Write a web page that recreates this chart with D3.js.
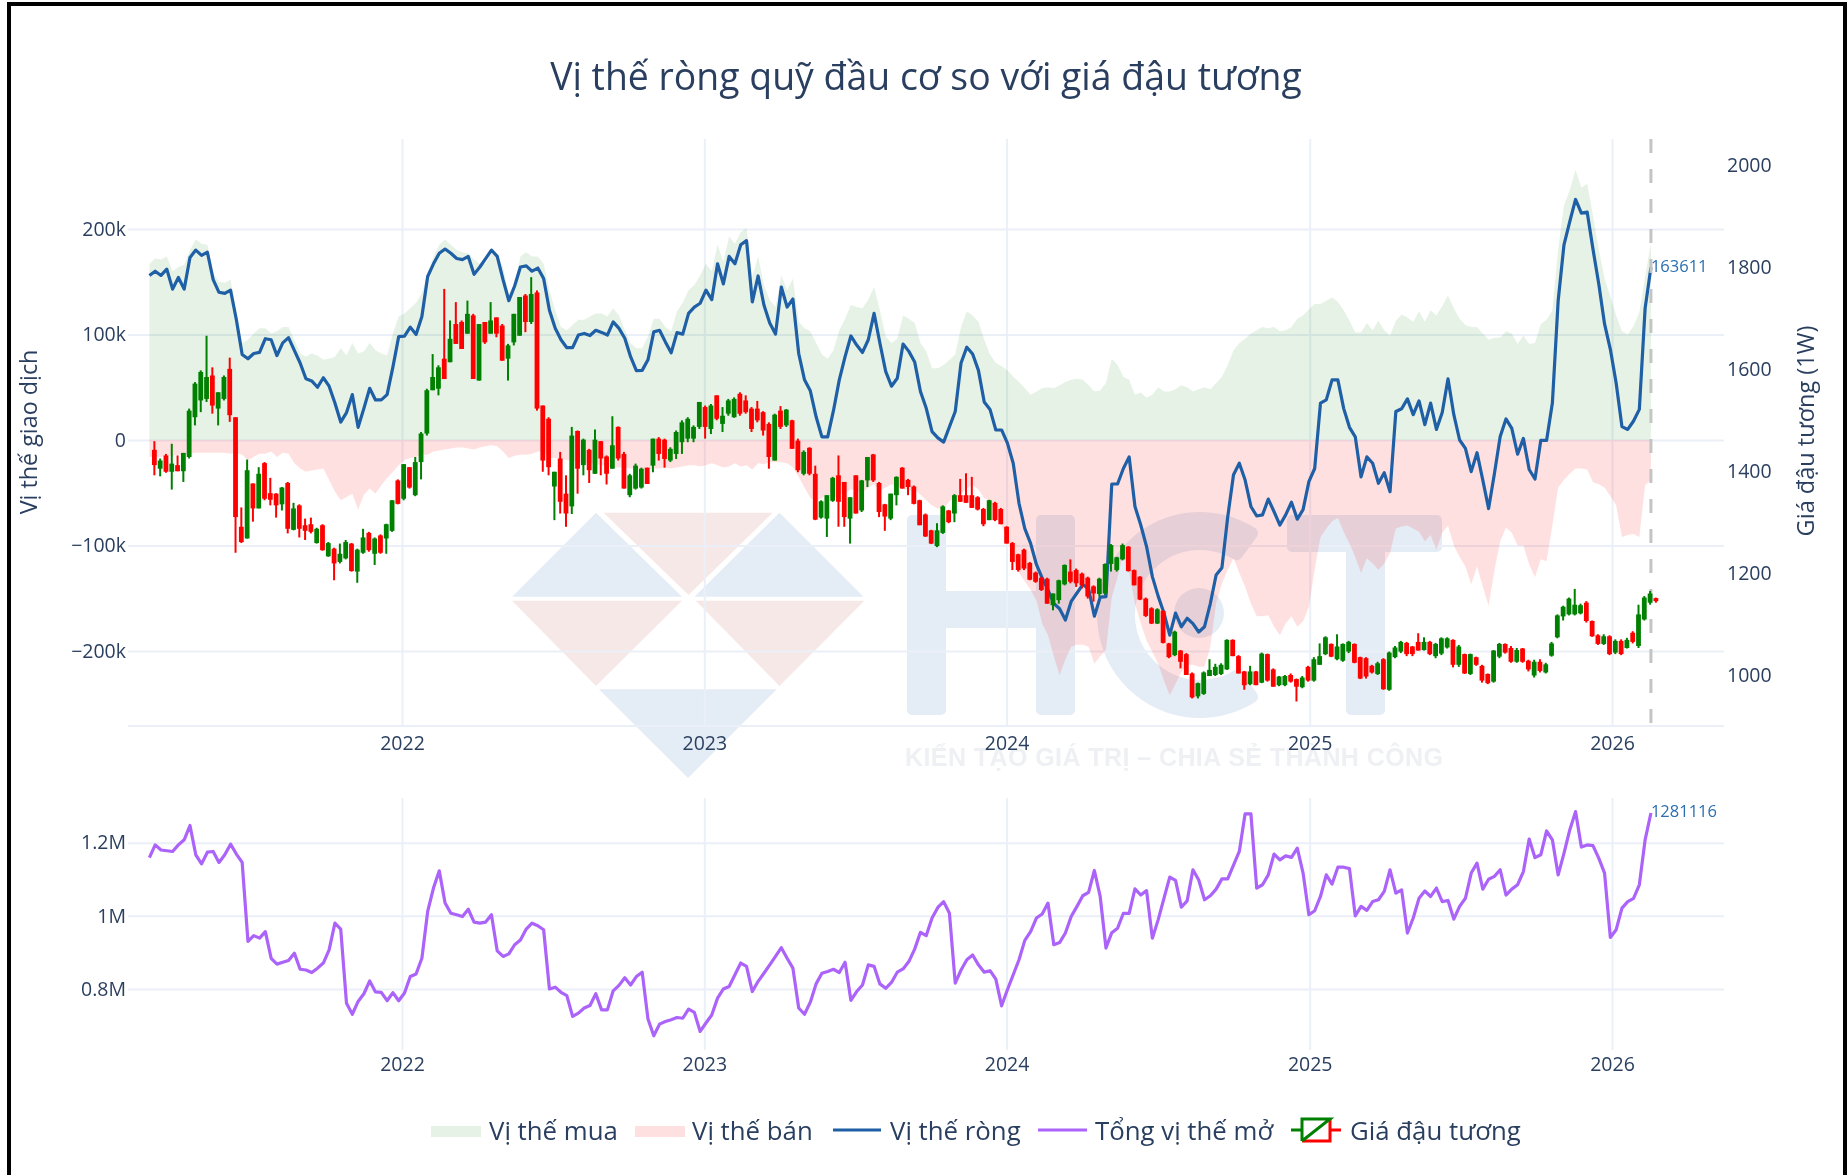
<!DOCTYPE html>
<html>
<head>
<meta charset="utf-8">
<title>Vị thế ròng quỹ đầu cơ so với giá đậu tương</title>
<script src="https://cdn.jsdelivr.net/npm/d3@7"></script>
<style>
  html, body { margin: 0; padding: 0; background: #fff; }
  /* the reference is an upscaled screenshot, so everything is a little soft */
  svg { display: block; filter: blur(0.55px); }
  text { font-family: "Open Sans", sans-serif; fill: #2a3f5f; }
</style>
</head>
<body>
<script>
var width = 1848;
var height = 1175;

// ---- data ----
var firstReport = new Date(2021, 2, 2); // weekly report, Tuesday
var yearTicks = [2022, 2023, 2024, 2025, 2026];
var netTicks = [-200, -100, 0, 100, 200];
var oiTicks = [0.8, 1, 1.2];
var priceTicks = [1000, 1200, 1400, 1600, 1800, 2000];
var legendNames = ["Vị thế mua", "Vị thế bán", "Vị thế ròng", "Tổng vị thế mở", "Giá đậu tương"];

// thousands of contracts
var longPos = [
  167,172,171,174,160,164,166,180,190,186, 185,158,150,149,152,120,92,95,101,106,
  106,101,103,107,107,95,82,79,82,80, 76,77,79,87,80,92,82,84,92,85,
  82,80,101,117,120,125,130,139,158,174, 185,190,185,180,178,177,171,167,167,177,
  174,164,139,148,174,178,174,174,167,142, 123,107,104,109,114,114,117,120,120,117,
  125,118,104,92,87,87,98,115,115,107, 103,122,130,142,147,156,167,160,185,169,
  193,186,197,201,155,174,147,133,126,156, 142,153,112,106,103,92,81,77,85,104,
  115,128,126,125,133,145,123,98,92,96, 118,115,111,92,84,68,68,71,76,81,
  107,122,118,112,95,81,73,70,66,60, 55,49,43,46,49,50,49,52,55,57,
  58,57,52,46,47,54,77,71,60,57, 43,45,40,43,50,46,46,48,52,50,
  46,48,50,48,54,60,71,85,92,96, 101,104,107,106,107,103,104,107,115,118,
  124,129,129,132,135,131,123,113,102,102, 111,104,113,104,99,113,119,116,112,122,
  112,123,118,127,137,125,115,109,107,107, 101,95,97,97,103,101,91,99,91,92,
  110,114,123,181,222,237,256,239,243,213, 181,153,136,118,103,100,108,121,155,187
];
var shortPos = [
  -16,-16,-16,-15,-15,-14,-14,-13,-12,-12, -12,-12,-12,-12,-13,-12,-14,-19,-16,-13,
  -13,-11,-16,-12,-13,-22,-27,-30,-29,-28, -27,-38,-49,-57,-54,-51,-66,-52,-46,-51,
  -43,-36,-30,-24,-19,-17,-16,-14,-14,-11, -10,-9,-8,-7,-7,-8,-9,-7,-6,-5,
  -6,-11,-17,-15,-14,-14,-13,-11,-11,-17, -17,-18,-19,-20,-21,-22,-22,-23,-24,-25,
  -26,-26,-26,-27,-27,-28,-28,-27,-27,-26, -27,-26,-25,-24,-24,-25,-24,-22,-24,-26,
  -25,-22,-25,-24,-28,-22,-23,-21,-21,-21, -22,-26,-35,-45,-55,-58,-55,-52,-55,-52,
  -50,-47,-48,-50,-45,-42,-48,-45,-42,-44, -46,-48,-47,-52,-57,-62,-65,-65,-58,-55,
  -51,-46,-43,-47,-55,-58,-71,-82,-93,-114, -126,-134,-142,-152,-174,-185,-205,-223,-208,-196,
  -194,-194,-196,-212,-205,-199,-149,-130,-107,-126, -155,-174,-190,-201,-212,-228,-242,-231,-220,-213,
  -213,-215,-215,-196,-155,-136,-123,-112,-126,-139, -155,-167,-167,-166,-177,-185,-174,-167,-177,-172,
  -158,-123,-92,-84,-77,-74,-87,-98,-111,-126, -112,-117,-123,-117,-107,-84,-82,-81,-84,-87,
  -96,-90,-104,-88,-81,-100,-111,-120,-137,-120, -139,-157,-124,-96,-83,-88,-100,-100,-118,-130,
  -113,-115,-81,-45,-38,-32,-27,-27,-28,-40, -42,-45,-53,-62,-92,-90,-89,-92,-43,-38
];
var netPos = [
  156,160,156,162,143,154,143,173,180,175, 178,152,140,139,142,114,81,77,82,83,
  96,95,80,92,97,85,73,58,56,50, 59,51,35,17,26,43,12,30,49,38,
  38,43,69,98,98.5,107,100,117,155,167, 177,181,177,172,171,174,157,164,172,180,
  174,152,132,146,164,165,160,163,153,123, 106,95,87.5,87.5,99.5,101,99,104,102,99.5,
  112,105.8,96.5,79,65.7,66,76,102.5,104,93, 82.7,101.8,100.4,120,126,129.6,142,133,167,148,
  174,167,185,189,131,155.5,128,111,100.4,145, 126,133.6,82,57,46.7,22,3,3,28,57,
  79,98.6,90,83,95,120,92,65,51,58.5, 91,84,74,46,30,8,2,-2,12.6,27,
  73,88,81.5,66,36,29,9.5,9.5,-3,-22, -60,-84,-98,-118,-131,-142,-155,-160,-170.6,-153,
  -145,-137,-141,-167,-149,-148.5,-41.7,-41.7,-27,-16, -63,-80.6,-101,-129.5,-148,-164,-185,-164,-177,-169,
  -174,-182,-177,-155,-128,-121,-73,-33,-22,-38, -63,-72,-71,-56,-68,-80.6,-71,-59,-75,-66,
  -39.5,-27,35,38,57,57,30,12,3,-35, -16,-22,-41,-31,-49,27,29.6,39,24,37,
  14.6,35,10,26,58,24,0,-8,-30,-12, -38,-65,-32,3.4,20,11,-13.5,1.5,-28,-37,
  -0.4,-0.4,35,132,185,207,228,215,216,181, 148,110,86,54,12.7,10,18,29,125,163.611
];
// millions of contracts
var openInterest = [
  1.159,1.194,1.180,1.178,1.176,1.194,1.208,1.247,1.167,1.142, 1.174,1.176,1.146,1.167,1.196,1.169,1.146,0.930,0.946,0.939,
  0.957,0.884,0.868,0.873,0.878,0.898,0.854,0.852,0.845,0.857, 0.871,0.907,0.980,0.964,0.761,0.731,0.766,0.787,0.822,0.792,
  0.791,0.768,0.790,0.768,0.789,0.834,0.841,0.884,1.012,1.076, 1.123,1.035,1.007,1.003,0.998,1.018,0.983,0.980,0.983,1.003,
  0.904,0.889,0.896,0.921,0.934,0.964,0.980,0.973,0.962,0.800, 0.805,0.791,0.782,0.725,0.734,0.748,0.755,0.787,0.743,0.743,
  0.795,0.810,0.831,0.811,0.834,0.846,0.718,0.672,0.704,0.711, 0.716,0.722,0.720,0.745,0.736,0.684,0.707,0.729,0.775,0.800,
  0.807,0.839,0.871,0.862,0.793,0.821,0.843,0.866,0.889,0.913, 0.884,0.857,0.748,0.731,0.764,0.814,0.843,0.848,0.854,0.845,
  0.873,0.769,0.793,0.811,0.866,0.862,0.814,0.802,0.818,0.846, 0.855,0.875,0.909,0.955,0.946,0.994,1.023,1.039,1.007,0.816,
  0.852,0.880,0.893,0.866,0.846,0.850,0.827,0.754,0.798,0.839, 0.880,0.933,0.957,0.994,1.005,1.035,0.921,0.927,0.953,0.998,
  1.026,1.055,1.064,1.124,1.053,0.912,0.954,0.966,1.007,1.007, 1.074,1.057,1.069,0.939,0.989,1.048,1.106,1.097,1.024,1.041,
  1.126,1.098,1.044,1.055,1.073,1.101,1.101,1.139,1.176,1.279, 1.279,1.076,1.085,1.112,1.169,1.153,1.164,1.160,1.185,1.117,
  1.003,1.014,1.053,1.112,1.087,1.133,1.133,1.129,1.000,1.026, 1.015,1.039,1.044,1.067,1.126,1.062,1.071,0.953,0.994,1.048,
  1.068,1.053,1.076,1.039,1.042,0.991,1.026,1.048,1.117,1.144, 1.073,1.100,1.108,1.126,1.057,1.073,1.085,1.121,1.210,1.159,
  1.167,1.232,1.208,1.112,1.171,1.235,1.285,1.188,1.194,1.192, 1.158,1.117,0.941,0.962,1.021,1.039,1.048,1.085,1.208,1.281116
];
// soybean weekly candles
var priceOpen = [
  1442,1405,1431,1399,1412,1400,1428,1506,1539,1542, 1588,1523,1542,1601,1506,1291,1268,1376,1327,1416,
  1357,1356,1335,1377,1285,1333,1294,1296,1259,1294, 1233,1248,1222,1229,1258,1203,1240,1279,1238,1274,
  1268,1283,1382,1346,1408,1353,1418,1474,1559,1562, 1621,1614,1689,1693,1670,1706,1578,1693,1670,1702,
  1686,1621,1653,1666,1745,1693,1751,1529,1503,1370, 1425,1356,1331,1479,1412,1442,1395,1459,1429,1405,
  1487,1434,1353,1366,1368,1407,1411,1464,1462,1421, 1434,1457,1464,1464,1487,1526,1483,1549,1493,1513,
  1506,1552,1539,1523,1523,1516,1493,1421,1519,1490, 1500,1460,1395,1446,1395,1309,1307,1342,1392,1379,
  1307,1392,1323,1382,1433,1377,1335,1307,1353,1407, 1383,1370,1343,1315,1284,1253,1279,1323,1317,1353,
  1353,1353,1349,1326,1304,1338,1326,1291,1259,1237, 1246,1220,1201,1191,1189,1137,1147,1178,1203,1206,
  1199,1191,1174,1159,1160,1218,1206,1227,1252,1206, 1193,1150,1131,1101,1126,1062,1039,1048,1041,1003,
  958,963,998,1000,1002,1011,1069,1037,1007,982, 1007,985,1041,1011,980,980,1000,992,976,1016,
  989,1020,1041,1061,1031,1028,1046,1061,1035,1033, 1018,1002,1031,971,1035,1046,1063,1056,1065,1049,
  1065,1037,1042,1054,1069,1020,1041,1002,1035,1018, 1002,987,1036,1061,1053,1026,1052,1028,999,1026,
  1005,1038,1074,1115,1119,1119,1121,1142,1106,1078, 1061,1076,1044,1067,1053,1083,1057,1109,1142,1151
];
var priceHigh = [
  1459,1425,1434,1454,1431,1436,1523,1575,1598,1666, 1604,1555,1588,1623,1506,1329,1423,1376,1408,1418,
  1387,1357,1369,1379,1338,1335,1307,1309,1289,1296, 1261,1250,1258,1265,1259,1248,1287,1281,1270,1276,
  1297,1343,1384,1414,1408,1428,1477,1562,1630,1608, 1758,1696,1732,1696,1735,1709,1689,1693,1732,1702,
  1689,1650,1709,1742,1748,1781,1755,1529,1506,1399, 1438,1392,1487,1480,1464,1444,1482,1459,1431,1508,
  1488,1438,1395,1415,1407,1407,1464,1467,1464,1447, 1480,1500,1506,1490,1536,1529,1532,1549,1526,1542,
  1545,1555,1549,1526,1538,1518,1496,1513,1528,1522, 1501,1464,1441,1447,1411,1343,1353,1389,1431,1379,
  1349,1392,1383,1428,1434,1379,1336,1356,1390,1408, 1385,1372,1344,1317,1285,1298,1333,1324,1355,1385,
  1396,1389,1351,1328,1344,1340,1328,1292,1261,1238, 1248,1222,1203,1193,1191,1160,1187,1217,1227,1209,
  1201,1193,1176,1191,1219,1257,1232,1258,1253,1207, 1194,1152,1133,1131,1127,1063,1087,1049,1043,1005,
  985,1007,1031,1022,1023,1070,1070,1039,1008,1018, 1008,1044,1042,1013,998,1000,1003,993,998,1018,
  1035,1062,1076,1062,1080,1062,1067,1062,1036,1035, 1020,1026,1033,1046,1057,1067,1065,1057,1082,1074,
  1067,1063,1074,1074,1070,1059,1042,1042,1036,1020, 1003,1049,1063,1062,1057,1053,1053,1030,1030,1031,
  1024,1065,1119,1136,1152,1169,1140,1145,1107,1080, 1080,1078,1070,1070,1073,1086,1138,1155,1165,1152
];
var priceLow = [
  1392,1390,1397,1364,1400,1379,1425,1490,1516,1536, 1513,1490,1539,1497,1240,1259,1268,1301,1327,1343,
  1333,1309,1323,1278,1284,1270,1265,1278,1258,1244, 1232,1186,1219,1227,1203,1181,1238,1242,1216,1238,
  1238,1281,1335,1343,1366,1351,1384,1470,1559,1549, 1581,1614,1650,1640,1670,1581,1578,1650,1670,1663,
  1617,1578,1647,1666,1673,1689,1519,1399,1392,1304, 1317,1291,1316,1356,1392,1377,1395,1392,1374,1405,
  1421,1366,1349,1364,1366,1375,1398,1421,1407,1418, 1424,1434,1457,1457,1483,1464,1473,1500,1477,1509,
  1505,1509,1513,1477,1496,1470,1405,1421,1483,1487, 1444,1398,1392,1392,1304,1307,1271,1340,1291,1291,
  1258,1317,1320,1369,1379,1310,1283,1304,1333,1366, 1353,1335,1294,1271,1257,1251,1277,1298,1300,1340,
  1338,1328,1323,1292,1304,1302,1296,1258,1206,1203, 1206,1186,1181,1165,1140,1127,1140,1176,1180,1173,
  1170,1150,1144,1154,1157,1203,1203,1225,1203,1176, 1147,1114,1100,1100,1062,1033,1037,1013,1000,954,
  954,961,998,998,1000,1010,1037,1003,971,980, 980,984,987,977,978,978,985,948,974,987,
  987,1020,1039,1035,1029,1026,1043,1023,992,993, 1003,1000,971,969,1033,1043,1037,1037,1048,1048,
  1039,1033,1039,1052,1015,1016,1002,1000,1018,985, 982,985,1033,1042,1024,1024,1024,1007,995,1005,
  1003,1036,1072,1107,1117,1117,1119,1103,1075,1059, 1059,1039,1041,1039,1052,1062,1053,1107,1138,1142
];
var priceClose = [
  1412,1421,1399,1415,1400,1436,1519,1572,1595,1585, 1529,1555,1585,1510,1310,1261,1402,1327,1395,1346,
  1344,1333,1368,1287,1327,1287,1283,1281,1287,1245, 1259,1219,1238,1261,1204,1246,1270,1245,1268,1240,
  1296,1343,1336,1414,1368,1418,1474,1559,1585,1604, 1581,1660,1650,1640,1709,1581,1689,1653,1696,1670,
  1617,1647,1709,1742,1693,1748,1523,1421,1408,1399, 1340,1317,1470,1405,1462,1402,1462,1425,1395,1451,
  1425,1366,1392,1411,1405,1375,1464,1434,1424,1444, 1477,1496,1503,1487,1536,1487,1529,1503,1509,1539,
  1542,1513,1516,1483,1500,1480,1428,1511,1487,1521, 1444,1402,1438,1395,1305,1341,1353,1387,1340,1310,
  1349,1317,1382,1428,1382,1320,1311,1356,1389,1366, 1369,1336,1294,1272,1258,1284,1331,1300,1353,1340,
  1338,1328,1325,1296,1343,1304,1296,1258,1222,1206, 1209,1187,1183,1167,1140,1160,1186,1216,1183,1180,
  1176,1154,1160,1189,1218,1255,1231,1255,1204,1176, 1148,1116,1101,1129,1063,1035,1085,1026,1000,956,
  984,1005,1010,1016,1020,1069,1037,1003,980,1007, 980,1042,989,977,997,998,987,977,995,989,
  1031,1037,1074,1036,1056,1061,1065,1024,993,997, 1005,1023,972,1044,1054,1065,1041,1041,1048,1065,
  1041,1061,1072,1072,1020,1056,1003,1041,1020,989, 984,1048,1061,1044,1026,1049,1026,1011,1026,1008,
  1021,1062,1117,1134,1150,1138,1137,1106,1076,1061, 1076,1041,1067,1041,1069,1065,1119,1152,1160,1145
];

// ---- dates ----
var DAY = 24 * 3600 * 1000;
var reportDates = netPos.map(function(d, i) { return new Date(firstReport.getTime() + i * 7 * DAY); });
// candles sit on the Monday after the report
var candleDates = priceOpen.map(function(d, i) { return new Date(firstReport.getTime() + (i * 7 + 6) * DAY); });

// ---- scales ----
var plotLeft = 128, plotRight = 1724;
var x = d3.scaleTime().domain([new Date(2022, 0, 1), new Date(2026, 0, 1)]).range([402, 1612]);
var yNet = d3.scaleLinear().domain([-200, 200]).range([651, 229]);
var yPrice = d3.scaleLinear().domain([1000, 2000]).range([675, 165.6]);
var yOI = d3.scaleLinear().domain([0.8, 1.2]).range([989, 842.7]);
var topPlot = { top: 139, bottom: 726, labelDrop: 24 };
var oiPlot = { top: 798, bottom: 1050, labelDrop: 21 };

var svg = d3.select("body").append("svg").attr("width", width).attr("height", height);

// frame of the screenshot
svg.append("rect").attr("x", 7).attr("y", 2).attr("width", 1840).attr("height", 4).attr("fill", "#000");
svg.append("rect").attr("x", 7).attr("y", 2).attr("width", 4).attr("height", height).attr("fill", "#000");
svg.append("rect").attr("x", 1843).attr("y", 2).attr("width", 4).attr("height", height).attr("fill", "#000");

// ---- watermark ----
var mark = svg.append("g");
var markBlue = "#e4ecf5", markPink = "#f7e8e8";
var markTriangles = [
  [markBlue, [[596, 512.7], [512, 596.7], [682, 596.7]]],
  [markPink, [[603.6, 512.7], [772.7, 512.7], [688.5, 595]]],
  [markBlue, [[779.5, 512.7], [694.5, 596.7], [863.6, 596.7]]],
  [markPink, [[512, 600.7], [682, 600.7], [596, 686]]],
  [markPink, [[695.7, 600.7], [864.4, 600.7], [779.5, 686]]],
  [markBlue, [[599, 689.3], [776.7, 689.3], [688, 778]]]
];
markTriangles.forEach(function(t) {
  mark.append("path").attr("d", d3.line()(t[1]) + "Z").attr("fill", t[0]);
});
// H
mark.append("rect").attr("x", 907).attr("y", 515).attr("width", 39).attr("height", 200).attr("rx", 5).attr("fill", markBlue);
mark.append("rect").attr("x", 1036).attr("y", 515).attr("width", 39).attr("height", 200).attr("rx", 5).attr("fill", markBlue);
mark.append("rect").attr("x", 946).attr("y", 591).attr("width", 90).attr("height", 37).attr("fill", markBlue);
// C with its dot
mark.append("path")
  .attr("transform", "translate(1200,615)")
  .attr("d", d3.arc().innerRadius(65).outerRadius(103).cornerRadius(6)
    .startAngle(144 * Math.PI / 180).endAngle(396 * Math.PI / 180)())
  .attr("fill", markBlue);
mark.append("circle").attr("cx", 1199).attr("cy", 613).attr("r", 25).attr("fill", markBlue);
// T
mark.append("rect").attr("x", 1287).attr("y", 515).attr("width", 155).attr("height", 37).attr("rx", 5).attr("fill", markBlue);
mark.append("rect").attr("x", 1346).attr("y", 515).attr("width", 39).attr("height", 200).attr("rx", 5).attr("fill", markBlue);
mark.append("text").text("KIẾN TẠO GIÁ TRỊ – CHIA SẺ THÀNH CÔNG")
  .attr("x", 905).attr("y", 766).attr("textLength", 538)
  .style("font-family", "'Liberation Sans', sans-serif").style("font-weight", "bold")
  .style("font-size", "25px").style("fill", "#eef0f3");

// ---- grids and axes ----
var gridColor = "#ebf0f8";
var tickFont = "19.5px";
var yearDates = yearTicks.map(function(y) { return new Date(y, 0, 1); });

function cleanAxis(g) {
  g.select(".domain").remove();
  g.selectAll("line").attr("stroke", gridColor).attr("stroke-width", 2);
  g.selectAll("text").attr("fill", null).style("font-size", tickFont);
}

function drawXAxis(plot) {
  var g = svg.append("g").attr("transform", "translate(0," + plot.bottom + ")")
    .call(d3.axisBottom(x).tickValues(yearDates).tickFormat(d3.timeFormat("%Y"))
      .tickSize(plot.top - plot.bottom).tickPadding(0));
  cleanAxis(g);
  g.selectAll("text").attr("y", 0).attr("dy", null).attr("transform", "translate(0," + plot.labelDrop + ")");
}
drawXAxis(topPlot);
drawXAxis(oiPlot);
// only the upper plot has a foot line
svg.append("line").attr("x1", plotLeft).attr("x2", plotRight)
  .attr("y1", topPlot.bottom).attr("y2", topPlot.bottom).attr("stroke", gridColor).attr("stroke-width", 2);

var netAxis = svg.append("g").attr("transform", "translate(" + plotRight + ",0)")
  .call(d3.axisLeft(yNet).tickValues(netTicks).tickSize(plotRight - plotLeft).tickPadding(2)
    .tickFormat(function(d) { return d === 0 ? "0" : (d < 0 ? "\u2212" + (-d) : d) + "k"; }));
cleanAxis(netAxis);

var oiAxis = svg.append("g").attr("transform", "translate(" + plotRight + ",0)")
  .call(d3.axisLeft(yOI).tickValues(oiTicks).tickSize(plotRight - plotLeft).tickPadding(2)
    .tickFormat(function(d) { return d + "M"; }));
cleanAxis(oiAxis);

var priceAxis = svg.append("g").attr("transform", "translate(1727,0)")
  .call(d3.axisRight(yPrice).tickValues(priceTicks).tickSize(0).tickPadding(0).tickFormat(d3.format("d")));
priceAxis.select(".domain").remove();
priceAxis.selectAll("text").attr("fill", null).style("font-size", tickFont);

svg.append("text").text("Vị thế giao dịch")
  .attr("transform", "translate(37,432) rotate(-90)").attr("text-anchor", "middle").style("font-size", "23.3px");
svg.append("text").text("Giá đậu tương (1W)")
  .attr("transform", "translate(1814,431) rotate(-90)").attr("text-anchor", "middle").style("font-size", "23.5px");

svg.append("text").text("Vị thế ròng quỹ đầu cơ so với giá đậu tương")
  .attr("x", 926).attr("y", 90).attr("text-anchor", "middle").style("font-size", "37.4px");

// ---- positions ----
function areaOf(values) {
  return d3.area()
    .x(function(d, i) { return x(reportDates[i]); })
    .y0(yNet(0))
    .y1(function(d) { return yNet(d); })(values);
}
svg.append("path").attr("d", areaOf(longPos)).attr("fill", "rgba(0,128,0,0.1)");
svg.append("path").attr("d", areaOf(shortPos)).attr("fill", "rgba(255,0,0,0.12)");

var netLine = d3.line()
  .x(function(d, i) { return x(reportDates[i]); })
  .y(function(d) { return yNet(d); });
svg.append("path").attr("d", netLine(netPos)).attr("fill", "none")
  .attr("stroke", "#1f5fa6").attr("stroke-width", 3.2).attr("stroke-linejoin", "round");

var oiLine = d3.line()
  .x(function(d, i) { return x(reportDates[i]); })
  .y(function(d) { return yOI(d); });
svg.append("path").attr("d", oiLine(openInterest)).attr("fill", "none")
  .attr("stroke", "#ab63fa").attr("stroke-width", 3.2).attr("stroke-linejoin", "round");

// last report marker
var lastDate = reportDates[reportDates.length - 1];
svg.append("line").attr("x1", x(lastDate)).attr("x2", x(lastDate))
  .attr("y1", topPlot.top).attr("y2", topPlot.bottom)
  .attr("stroke", "#c4c4c4").attr("stroke-width", 3).attr("stroke-dasharray", "14 16");

svg.append("text").text("163611")
  .attr("x", x(lastDate)).attr("y", yNet(netPos[netPos.length - 1]) + 5)
  .style("font-size", "16.5px").style("fill", "#2a6fb0");
svg.append("text").text("1281116")
  .attr("x", x(lastDate)).attr("y", 817)
  .style("font-size", "16.5px").style("fill", "#2a6fb0");

// ---- candles ----
var candles = svg.append("g").selectAll("g")
  .data(priceOpen)
  .enter()
  .append("g")
  .attr("transform", function(d, i) { return "translate(" + x(candleDates[i]) + ",0)"; });

function candleColor(d, i) { return priceClose[i] >= priceOpen[i] ? "#008000" : "#ff0000"; }

candles.append("line")
  .attr("y1", function(d, i) { return yPrice(priceHigh[i]); })
  .attr("y2", function(d, i) { return yPrice(priceLow[i]); })
  .attr("stroke", candleColor).attr("stroke-width", 2);
candles.append("rect")
  .attr("x", -2.4).attr("width", 4.8)
  .attr("y", function(d, i) { return yPrice(Math.max(priceOpen[i], priceClose[i])); })
  .attr("height", function(d, i) { return Math.max(1, Math.abs(yPrice(priceOpen[i]) - yPrice(priceClose[i]))); })
  .attr("fill", candleColor);

// ---- legend ----
var legendY = 1131, legendText = [489, 692, 890, 1095, 1350];
legendNames.forEach(function(name, i) {
  svg.append("text").text(name).attr("x", legendText[i]).attr("y", legendY + 9).style("font-size", "25.8px");
});
svg.append("rect").attr("x", 431).attr("y", 1126).attr("width", 50).attr("height", 11).attr("fill", "rgba(0,128,0,0.1)");
svg.append("rect").attr("x", 635).attr("y", 1126).attr("width", 50).attr("height", 11).attr("fill", "rgba(255,0,0,0.12)");
svg.append("line").attr("x1", 833).attr("x2", 881).attr("y1", 1130).attr("y2", 1130).attr("stroke", "#1f5fa6").attr("stroke-width", 3);
svg.append("line").attr("x1", 1038).attr("x2", 1087).attr("y1", 1130).attr("y2", 1130).attr("stroke", "#ab63fa").attr("stroke-width", 3);
// candle key: green half over red half
svg.append("path").attr("d", "M1330,1119V1141H1302M1330,1130H1341").attr("fill", "none").attr("stroke", "#ff0000").attr("stroke-width", 3);
svg.append("path").attr("d", "M1291,1130H1302M1302,1141V1119H1330L1302,1141").attr("fill", "none").attr("stroke", "#008000").attr("stroke-width", 3);
</script>
</body>
</html>
